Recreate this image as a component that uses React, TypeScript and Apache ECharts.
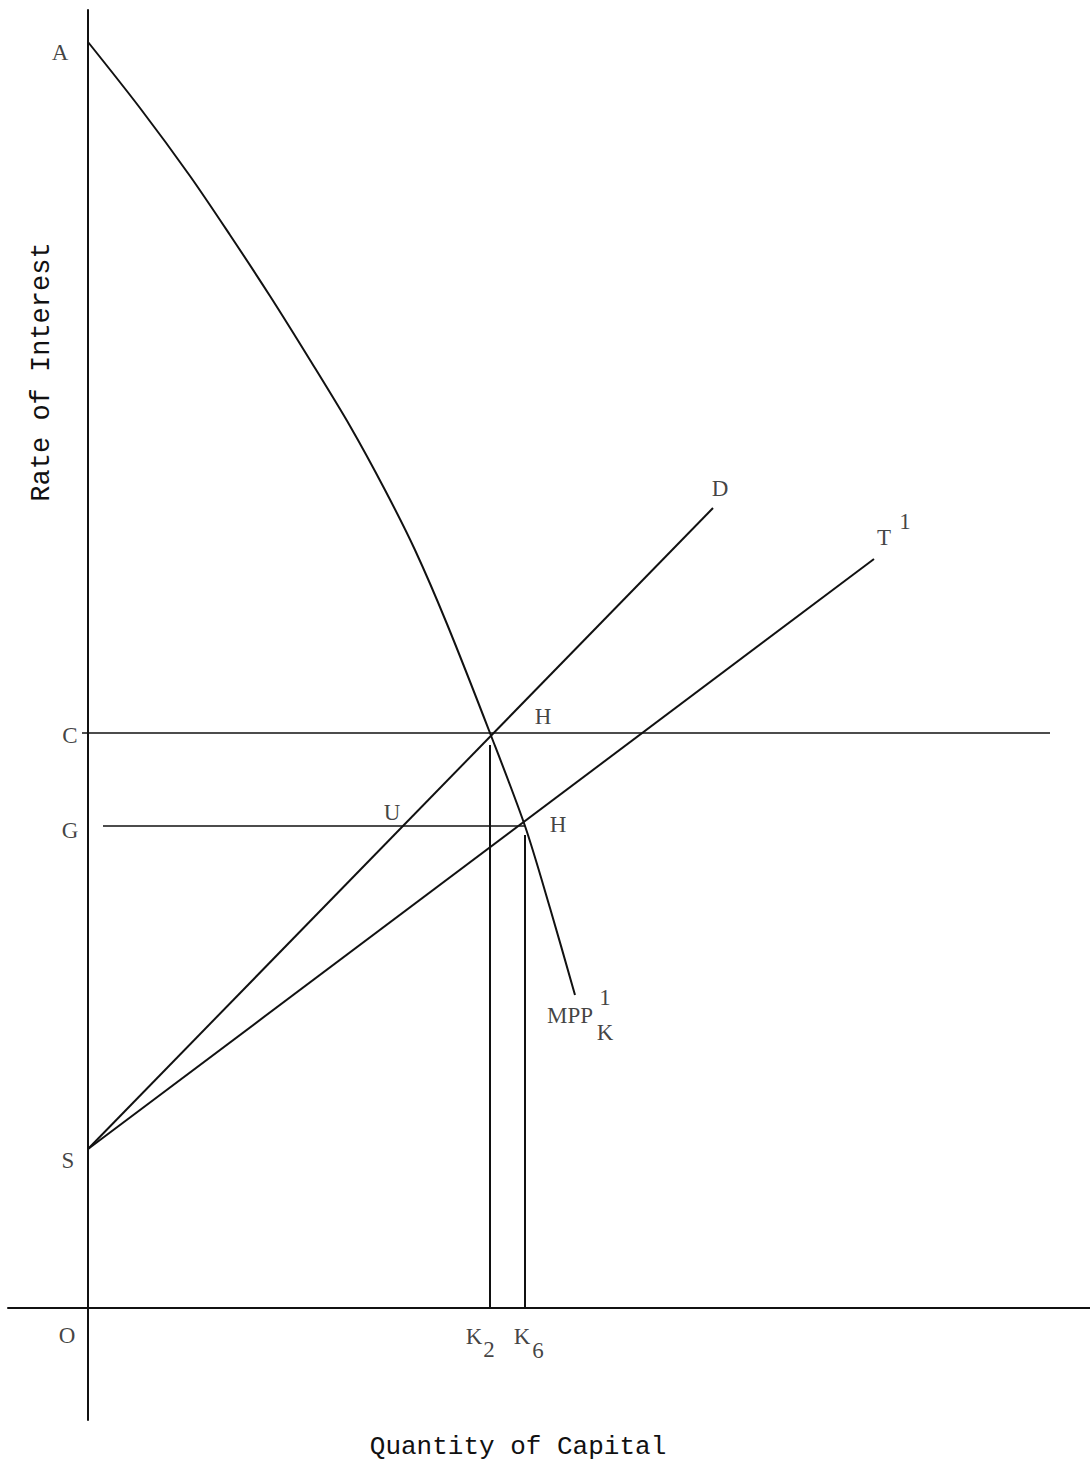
import React, { useEffect, useRef } from "react";
import * as echarts from "echarts";

// Data coordinates: x = quantity of capital, y = rate of interest (origin at O)
const mppCurve: [number, number][] = [
  [0, 1266], [52, 1200], [102, 1132], [142, 1073], [182, 1012], [222, 948],
  [262, 882], [297, 818], [327, 758], [359, 684], [402, 575], [437, 482],
  [462, 400], [487, 313],
];
const lineD: [number, number][] = [[0, 159], [625, 800]];
const lineT1: [number, number][] = [[0, 159], [786, 749]];
const lineC: [number, number][] = [[-6, 575], [962, 575]];
const lineG: [number, number][] = [[15, 482], [437, 482]];
const vertK2: [number, number][] = [[402, 563], [402, 0]];
const vertK6: [number, number][] = [[437, 473], [437, 0]];

const pointLabels: { pos: [number, number]; text: string }[] = [
  { pos: [-28, 1256], text: "A" },
  { pos: [-18, 573], text: "C" },
  { pos: [-18, 478], text: "G" },
  { pos: [-20, 148], text: "S" },
  { pos: [-21, -27], text: "O" },
  { pos: [455, 592], text: "H" },
  { pos: [470, 484], text: "H" },
  { pos: [304, 496], text: "U" },
  { pos: [632, 820], text: "D" },
  { pos: [796, 771], text: "T" },
  { pos: [817, 787], text: "1" },
  { pos: [482, 293], text: "MPP" },
  { pos: [517, 311], text: "1" },
  { pos: [517, 276], text: "K" },
  { pos: [386, -28], text: "K" },
  { pos: [401, -41], text: "2" },
  { pos: [434, -28], text: "K" },
  { pos: [450, -42], text: "6" },
];

const xTitle = "Quantity of Capital";
const yTitle = "Rate of Interest";

export default function App() {
  const ref = useRef<HTMLDivElement>(null);
  useEffect(() => {
    if (!ref.current) return;
    const chart = echarts.init(ref.current, null, { renderer: "svg" });
    const ink = "#111";
    const lineSeries = (data: [number, number][], width = 2, smooth: number | boolean = false) => ({
      type: "line",
      data,
      symbol: "none",
      smooth,
      lineStyle: { color: ink, width },
      silent: true,
    });
    chart.setOption({
      animation: false,
      backgroundColor: "#fff",
      grid: { left: 8, right: 0, top: 10, bottom: 49 },
      xAxis: {
        type: "value",
        min: -80,
        max: 1002,
        axisLine: { show: true, onZero: true, lineStyle: { color: ink, width: 2 } },
        axisTick: { show: false },
        axisLabel: { show: false },
        splitLine: { show: false },
      },
      yAxis: {
        type: "value",
        min: -112,
        max: 1298,
        axisLine: { show: true, onZero: true, lineStyle: { color: ink, width: 2 } },
        axisTick: { show: false },
        axisLabel: { show: false },
        splitLine: { show: false },
      },
      series: [
        lineSeries(mppCurve, 2, 0.3),
        lineSeries(lineD, 2),
        lineSeries(lineT1, 2),
        lineSeries(lineC, 1.5),
        lineSeries(lineG, 1.5),
        lineSeries(vertK2, 2),
        lineSeries(vertK6, 2),
        {
          type: "scatter",
          symbolSize: 1,
          itemStyle: { color: "rgba(0,0,0,0)" },
          silent: true,
          data: pointLabels.map((l) => ({ value: l.pos, name: l.text })),
          label: {
            show: true,
            position: "inside",
            formatter: (p: any) => p.name,
            color: ink,
            fontFamily: "Liberation Serif",
            fontSize: 23,
          },
        },
      ],
      graphic: [
        {
          type: "text",
          x: 518,
          y: 1447,
          style: {
            text: xTitle,
            font: "26px 'Liberation Mono'",
            fill: ink,
            align: "center",
            verticalAlign: "middle",
          },
        },
        {
          type: "text",
          x: 42,
          y: 372,
          rotation: Math.PI / 2,
          style: {
            text: yTitle,
            font: "27px 'Liberation Mono'",
            fill: ink,
            align: "center",
            verticalAlign: "middle",
          },
        },
      ],
    });
    return () => chart.dispose();
  }, []);
  return (
    <div
      ref={ref}
      style={{ position: "absolute", left: 0, top: 0, width: 1090, height: 1469, background: "#fff" }}
    />
  );
}
